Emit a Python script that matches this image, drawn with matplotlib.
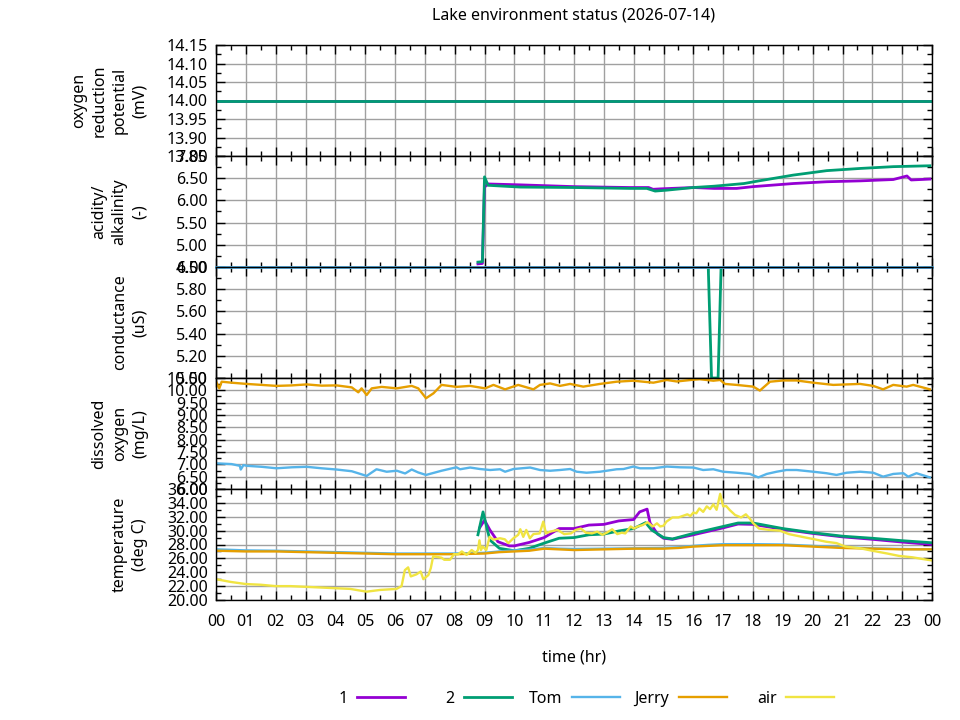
import numpy as np
import matplotlib
matplotlib.use('Agg')
import matplotlib.pyplot as plt
from matplotlib.ticker import MultipleLocator, FormatStrFormatter

plt.rcParams['font.family'] = ['Noto Sans', 'DejaVu Sans']
plt.rcParams['font.size'] = 11.5

# ---------------- data ----------------
series_names = ['1', '2', 'Tom', 'Jerry', 'air']
series_colors = ['#9400d3', '#009e73', '#56b4e9', '#e69f00', '#f0e442']

# oxygen reduction potential (mV)
orp_t = [0.0, 24.0]
orp_1 = [14.0, 14.0]
orp_2 = [14.0, 14.0]

# acidity / alkalinity
ph1_t = [8.78, 8.93, 9.0, 9.12, 10.2, 12.0, 13.88, 14.5, 14.65, 14.9, 16.0,
         16.7, 17.45, 18.0, 19.35, 20.47, 21.6, 22.7, 23.16, 23.3, 23.93]
ph1 = [4.57, 4.58, 6.30, 6.37, 6.35, 6.31, 6.29, 6.29, 6.25, 6.26, 6.29,
       6.27, 6.27, 6.31, 6.38, 6.42, 6.44, 6.47, 6.55, 6.46, 6.48]
ph2_t = [8.78, 8.93, 9.0, 9.12, 10.2, 12.0, 13.88, 14.44, 14.72, 15.1, 16.0,
         16.7, 17.7, 18.2, 19.35, 20.47, 21.6, 22.7, 23.93]
ph2 = [4.61, 4.62, 6.53, 6.34, 6.30, 6.29, 6.27, 6.27, 6.21, 6.23, 6.29,
       6.32, 6.38, 6.44, 6.57, 6.67, 6.72, 6.76, 6.78]

# conductance (uS)
cond1_t = [8.78, 23.93]
cond1 = [6.0, 6.0]
cond2_t = [8.78, 16.5, 16.61, 16.83, 16.93, 23.93]
cond2 = [6.0, 6.0, 5.0, 5.0, 6.0, 6.0]
cond_tom_t = [0.0, 24.0]
cond_tom = [6.0, 6.0]

# dissolved oxygen (mg/L)
do_tom_t = [0.02, 0.52, 0.8, 0.83, 0.92, 1.03, 1.53, 2.03, 2.54, 3.04, 3.54,
            4.04, 4.55, 5.05, 5.38, 5.72, 6.06, 6.34, 6.56, 6.78, 7.04, 7.56,
            8.06, 8.18, 8.52, 8.85, 9.19, 9.52, 9.69, 9.97, 10.53, 10.86, 11.2,
            11.53, 11.87, 12.09, 12.42, 12.87, 13.43, 13.66, 13.99, 14.21,
            14.66, 15.11, 15.55, 16.0, 16.33, 16.67, 17.0, 17.45, 17.9, 18.18,
            18.46, 18.79, 19.12, 19.46, 20.02, 20.46, 20.8, 21.14, 21.59,
            22.03, 22.36, 22.7, 23.04, 23.2, 23.48, 23.93]
do_tom = [7.04, 7.01, 6.94, 6.79, 6.97, 6.94, 6.90, 6.84, 6.88, 6.90, 6.84,
          6.79, 6.72, 6.53, 6.80, 6.70, 6.74, 6.63, 6.79, 6.67, 6.57, 6.74,
          6.88, 6.80, 6.87, 6.81, 6.77, 6.80, 6.70, 6.81, 6.87, 6.77, 6.74,
          6.77, 6.81, 6.70, 6.66, 6.70, 6.80, 6.81, 6.91, 6.84,
          6.84, 6.91, 6.88, 6.87, 6.77, 6.80, 6.70, 6.66, 6.61, 6.47,
          6.61, 6.70, 6.77, 6.77, 6.70, 6.64, 6.57, 6.66, 6.70,
          6.66, 6.50, 6.61, 6.64, 6.50, 6.64, 6.47]
do_jerry_t = [0.02, 0.11, 0.19, 0.52, 1.03, 1.53, 2.03, 2.54, 3.04, 3.54,
              4.04, 4.55, 4.77, 4.88, 5.05, 5.22, 5.55, 6.06, 6.56, 6.78,
              7.04, 7.29, 7.56, 8.06, 8.52, 9.02, 9.30, 9.69, 10.13, 10.64,
              10.86, 11.2, 11.53, 11.87, 12.31, 12.87, 13.43, 13.99, 14.66,
              15.11, 15.44, 16.0, 16.22, 16.67, 16.9, 17.06, 17.45, 18.01,
              18.23, 18.57, 19.01, 19.46, 20.02, 20.69, 21.59, 22.03, 22.36,
              22.7, 23.15, 23.37, 23.93]
do_jerry = [10.31, 10.08, 10.35, 10.31, 10.26, 10.22, 10.18, 10.20, 10.24,
            10.19, 10.20, 10.12, 9.92, 10.08, 9.81, 10.08, 10.14, 10.08,
            10.18, 10.08, 9.68, 9.88, 10.22, 10.14, 10.18, 10.08, 10.22,
            10.04, 10.22, 10.04, 10.22, 10.28, 10.18, 10.26, 10.15, 10.26,
            10.35, 10.39, 10.31, 10.42, 10.36, 10.43, 10.45, 10.39, 10.42,
            10.26, 10.22, 10.15, 9.99, 10.35, 10.40, 10.40, 10.31, 10.22,
            10.26, 10.18, 10.04, 10.22, 10.15, 10.22, 10.04]

# temperature (deg C)
temp1_t = [8.85, 9.0, 9.18, 9.45, 9.83, 10.0, 10.5, 11.0, 11.5, 12.0, 12.5,
           13.0, 13.5, 14.0, 14.2, 14.45, 14.55, 14.8, 15.0, 15.3, 16.0,
           17.0, 17.5, 18.0, 19.0, 20.0, 21.0, 22.0, 23.0, 24.0]
temp1 = [30.5, 31.5, 30.1, 28.4, 27.8, 27.8, 28.3, 29.0, 30.3, 30.3, 30.8,
         30.9, 31.4, 31.6, 32.7, 33.1, 31.1, 29.5, 28.9, 28.75, 29.4,
         30.4, 30.95, 30.9, 30.2, 29.6, 29.1, 28.75, 28.35, 28.0]
temp2_t = [8.78, 8.95, 9.18, 9.5, 10.0, 10.5, 11.0, 11.5, 12.0, 12.5, 13.0,
           13.5, 14.0, 14.4, 14.6, 15.0, 15.3, 16.0, 17.0, 17.5, 18.0, 19.0,
           20.0, 21.0, 22.0, 23.0, 24.0]
temp2 = [29.4, 32.7, 28.65, 27.45, 27.1, 27.45, 28.2, 28.9, 29.0, 29.4, 29.5,
         29.95, 30.3, 31.15, 30.1, 29.0, 28.8, 29.6, 30.6, 31.1, 31.1, 30.3,
         29.7, 29.2, 28.9, 28.55, 28.25]
temp_tom_t = [0, 1, 2, 3, 4, 5, 6, 7, 8, 9, 9.5, 10, 10.5, 11, 11.5, 12, 13,
              14, 15, 15.5, 16, 16.5, 17, 18, 19, 20, 21, 22, 23, 24]
temp_tom = [27.3, 27.15, 27.1, 27.0, 26.9, 26.8, 26.7, 26.7, 26.7, 26.8,
            27.0, 27.15, 27.25, 27.5, 27.4, 27.35, 27.4, 27.45, 27.5, 27.6,
            27.8, 27.95, 28.05, 28.05, 28.0, 27.8, 27.6, 27.45, 27.35, 27.3]
temp_jerry_t = temp_tom_t
temp_jerry = [27.1, 27.0, 27.0, 26.9, 26.8, 26.7, 26.6, 26.6, 26.6, 26.7,
              26.9, 27.0, 27.1, 27.4, 27.3, 27.2, 27.3, 27.4, 27.4, 27.5,
              27.7, 27.8, 27.9, 27.9, 27.9, 27.7, 27.5, 27.4, 27.3, 27.3]
air_t = [0.0, 0.5, 1.0, 1.5, 2.0, 2.5, 3.0, 3.5, 4.0, 4.5, 5.05, 5.5, 6.05,
         6.22, 6.33, 6.44, 6.53, 6.72, 6.86, 6.95, 7.12, 7.2, 7.28, 7.56,
         7.65, 7.84, 7.98, 8.12, 8.24, 8.4, 8.57, 8.7, 8.78, 8.83, 8.88,
         8.94, 9.06, 9.17, 9.3, 9.52, 9.68, 9.8, 9.97, 10.13, 10.2, 10.3,
         10.4, 10.52, 10.64, 10.85, 10.97, 11.06, 11.2, 11.45, 11.67, 11.9,
         12.06, 12.23, 12.4, 12.6, 12.78, 12.95, 13.1, 13.28, 13.45, 13.6,
         13.72, 13.9, 14.0, 14.14, 14.3, 14.47, 14.64, 14.78, 14.89, 15.0,
         15.1, 15.3, 15.5, 15.8, 15.9, 16.0, 16.1, 16.2, 16.33, 16.45,
         16.56, 16.67, 16.78, 16.9, 17.0, 17.1, 17.22, 17.4, 17.6, 17.76,
         17.88, 18.0, 18.2, 18.55, 18.9, 19.2, 19.65, 20.0, 20.45, 20.8,
         21.1, 21.6, 22.0, 22.5, 22.9, 23.35, 23.7, 24.0]
air = [23.0, 22.6, 22.3, 22.2, 22.0, 22.0, 21.9, 21.8, 21.7, 21.6, 21.2,
       21.45, 21.6, 22.0, 24.3, 24.7, 23.4, 23.7, 24.1, 23.0, 23.6, 24.6,
       26.3, 26.1, 25.8, 25.8, 26.6, 26.6, 27.0, 26.5, 27.2, 26.8, 27.2,
       28.6, 27.2, 27.7, 27.2, 29.1, 28.7, 28.9, 28.75, 28.2, 28.9, 29.4,
       30.2, 29.1, 30.1, 28.9, 29.5, 29.6, 31.3, 29.6, 29.85, 30.1, 29.5,
       29.6, 30.1, 30.3, 29.7, 29.6, 29.85, 29.4, 29.7, 30.2, 29.5, 29.7,
       29.6, 30.6, 30.3, 30.6, 30.8, 31.2, 30.6, 31.05, 30.6, 30.7, 31.3,
       31.9, 31.9, 32.35, 32.1, 32.6, 32.5, 33.2, 32.7, 33.5, 33.1, 33.8,
       33.0, 35.3, 33.5, 33.55, 32.97, 32.25, 31.9, 32.35, 31.8, 31.1,
       30.3, 30.1, 30.0, 29.5, 29.1, 28.8, 28.4, 28.2, 27.7, 27.45, 27.1,
       26.7, 26.35, 26.15, 25.9, 25.7]

hour_labels = ['%02d' % (h % 24) for h in range(25)]

panel_labels = ['oxygen\nreduction\npotential\n(mV)',
                'acidity/\nalkalinity\n(-)',
                'conductance\n(uS)',
                'dissolved\noxygen\n(mg/L)',
                'temperature\n(deg C)']
panel_ylim = [(13.85, 14.15), (4.5, 7.0), (5.0, 6.0), (6.0, 10.5), (20.0, 36.0)]
panel_major = [0.05, 0.5, 0.2, 0.5, 2.0]
panel_minor = [0.025, 0.25, 0.1, 0.25, 1.0]

# ---------------- figure ----------------
fig = plt.figure(figsize=(9.6, 7.2), dpi=100)
gs = fig.add_gridspec(5, 1, left=216 / 960, right=932 / 960,
                      top=1 - 45 / 720, bottom=1 - 600 / 720, hspace=0)
axes = []
for i in range(5):
    ax = fig.add_subplot(gs[i], sharex=axes[0] if axes else None)
    axes.append(ax)

c1, c2, ctom, cjerry, cair = series_colors
lw_a = 2.0
lw_b = 1.7

ax = axes[0]
ax.plot(orp_t, orp_1, color=c1, lw=lw_a)
ax.plot(orp_t, orp_2, color=c2, lw=lw_a)

ax = axes[1]
ax.plot(ph1_t, ph1, color=c1, lw=lw_a)
ax.plot(ph2_t, ph2, color=c2, lw=lw_a)

ax = axes[2]
ax.plot(cond1_t, cond1, color=c1, lw=lw_a)
ax.plot(cond2_t, cond2, color=c2, lw=lw_a)
ax.plot(cond_tom_t, cond_tom, color=ctom, lw=lw_a, clip_on=False)

ax = axes[3]
ax.plot(do_tom_t, do_tom, color=ctom, lw=lw_b)
ax.plot(do_jerry_t, do_jerry, color=cjerry, lw=lw_b)

ax = axes[4]
l1, = ax.plot(temp1_t, temp1, color=c1, lw=lw_a)
l2, = ax.plot(temp2_t, temp2, color=c2, lw=lw_a)
l3, = ax.plot(temp_tom_t, temp_tom, color=ctom, lw=lw_b)
l4, = ax.plot(temp_jerry_t, temp_jerry, color=cjerry, lw=lw_b)
l5, = ax.plot(air_t, air, color=cair, lw=lw_b)

for i, ax in enumerate(axes):
    ax.set_xlim(0, 24)
    ax.set_ylim(*panel_ylim[i])
    ax.yaxis.set_major_locator(MultipleLocator(panel_major[i]))
    ax.yaxis.set_minor_locator(MultipleLocator(panel_minor[i]))
    ax.yaxis.set_major_formatter(FormatStrFormatter('%.2f'))
    ax.set_xticks(range(25))
    ax.xaxis.set_minor_locator(MultipleLocator(0.5))
    ax.grid(True, which='major', color='#a0a0a0', lw=1.0)
    ax.tick_params(which='both', direction='in', top=True, right=True,
                   width=1.0, colors='black')
    ax.tick_params(which='major', length=6.5)
    ax.tick_params(which='minor', length=3.3)
    ax.tick_params(axis='y', pad=6)
    for sp in ax.spines.values():
        sp.set_linewidth(1.0)
    ax.text(-0.095, 0.5, panel_labels[i], transform=ax.transAxes,
            rotation=90, ha='right', va='center', multialignment='center',
            linespacing=1.36)
    if i < 4:
        ax.tick_params(axis='x', labelbottom=False)

axes[4].set_xticklabels(hour_labels)
axes[4].tick_params(axis='x', pad=10)
axes[4].set_xlabel('time (hr)', labelpad=14)
axes[0].set_title('Lake environment status (2026-07-14)', pad=18,
                  fontsize=11.5)

# key: text to the left of each sample, evenly spaced like gnuplot
handles = [l1, l2, l3, l4, l5]
for k, (h, name) in enumerate(zip(handles, series_names)):
    x_end = (405 + 107.3 * k) / 960
    fig.legend([h], [name], loc='center right', bbox_to_anchor=(x_end, 1 - 699 / 720),
               frameon=False, markerfirst=False, handlelength=3.0,
               handletextpad=0.6, borderpad=0, borderaxespad=0)

fig.savefig('out.png', dpi=100)
